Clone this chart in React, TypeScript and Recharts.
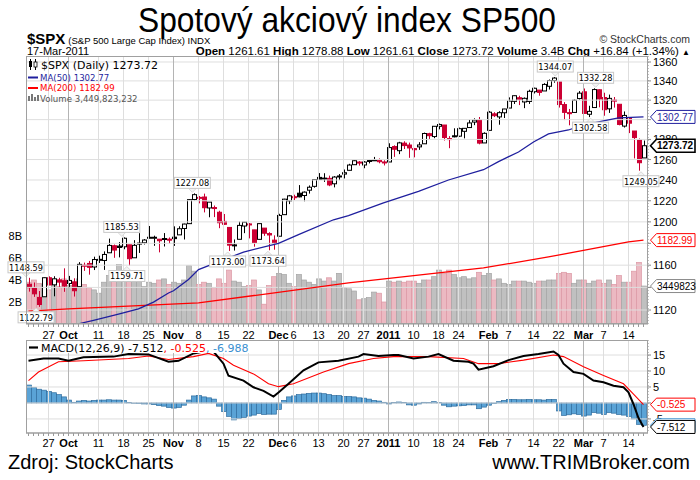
import React from 'react';
import { ComposedChart, Bar, Line, XAxis, YAxis, ReferenceLine, ReferenceDot } from 'recharts';

const dates = [
  '2010-09-21','2010-09-22','2010-09-23','2010-09-24','2010-09-27','2010-09-28','2010-09-29','2010-09-30',
  '2010-10-01','2010-10-04','2010-10-05','2010-10-06','2010-10-07','2010-10-08','2010-10-11','2010-10-12','2010-10-13','2010-10-14','2010-10-15','2010-10-18','2010-10-19','2010-10-20','2010-10-21','2010-10-22','2010-10-25','2010-10-26','2010-10-27','2010-10-28','2010-10-29',
  '2010-11-01','2010-11-02','2010-11-03','2010-11-04','2010-11-05','2010-11-08','2010-11-09','2010-11-10','2010-11-11','2010-11-12','2010-11-15','2010-11-16','2010-11-17','2010-11-18','2010-11-19','2010-11-22','2010-11-23','2010-11-24','2010-11-26','2010-11-29','2010-11-30',
  '2010-12-01','2010-12-02','2010-12-03','2010-12-06','2010-12-07','2010-12-08','2010-12-09','2010-12-10','2010-12-13','2010-12-14','2010-12-15','2010-12-16','2010-12-17','2010-12-20','2010-12-21','2010-12-22','2010-12-23','2010-12-27','2010-12-28','2010-12-29','2010-12-30','2010-12-31',
  '2011-01-03','2011-01-04','2011-01-05','2011-01-06','2011-01-07','2011-01-10','2011-01-11','2011-01-12','2011-01-13','2011-01-14','2011-01-18','2011-01-19','2011-01-20','2011-01-21','2011-01-24','2011-01-25','2011-01-26','2011-01-27','2011-01-28','2011-01-31',
  '2011-02-01','2011-02-02','2011-02-03','2011-02-04','2011-02-07','2011-02-08','2011-02-09','2011-02-10','2011-02-11','2011-02-14','2011-02-15','2011-02-16','2011-02-17','2011-02-18','2011-02-22','2011-02-23','2011-02-24','2011-02-25','2011-02-28',
  '2011-03-01','2011-03-02','2011-03-03','2011-03-04','2011-03-07','2011-03-08','2011-03-09','2011-03-10','2011-03-11','2011-03-14','2011-03-15','2011-03-16','2011-03-17',
];

const prevClose = 1142.71;

const opens = [
  1142.82,1139.49,1131.10,1131.69,1148.64,1142.31,1146.75,1145.97,
  1143.49,1144.96,1140.68,1159.81,1161.57,1158.36,1165.32,1164.28,1171.32,1177.82,1177.47,1176.83,1178.64,1166.74,1179.56,1180.52,1184.74,1184.88,1183.84,1184.47,1183.87,
  1185.71,1187.86,1193.79,1198.34,1221.20,1223.24,1223.59,1213.14,1213.04,1209.07,1200.44,1194.79,1178.33,1183.75,1196.12,1198.07,1192.51,1183.70,1194.16,1189.08,1182.96,
  1186.60,1206.81,1219.93,1223.87,1227.25,1225.02,1230.14,1233.85,1242.52,1241.84,1241.58,1236.34,1243.63,1245.76,1249.43,1254.94,1257.53,1254.66,1259.10,1258.78,1259.44,1256.76,
  1257.62,1272.95,1268.78,1276.29,1274.41,1270.84,1272.58,1275.65,1285.78,1282.90,1293.22,1294.52,1280.85,1283.63,1283.29,1288.17,1291.97,1297.51,1299.63,1276.50,
  1289.14,1305.91,1302.77,1307.01,1311.85,1318.76,1322.48,1318.13,1318.66,1328.73,1330.43,1329.51,1334.37,1340.38,1338.91,1315.44,1307.09,1307.34,1321.61,
  1328.64,1305.47,1312.37,1330.73,1322.72,1311.05,1319.92,1315.72,1293.43,1301.19,1288.46,1279.46,1261.61,
];
const highs = [
  1148.59,1144.38,1136.77,1148.90,1149.92,1150.00,1148.63,1157.16,
  1150.30,1148.16,1162.76,1162.33,1163.87,1167.73,1168.68,1172.58,1184.38,1178.89,1181.20,1185.53,1178.64,1182.94,1189.43,1183.93,1196.14,1187.11,1183.84,1189.53,1185.46,
  1195.81,1195.88,1198.30,1221.25,1227.08,1224.57,1226.84,1218.75,1215.45,1210.50,1207.43,1194.79,1183.56,1200.29,1199.97,1198.94,1192.51,1198.62,1194.16,1190.34,1187.40,
  1207.61,1221.89,1225.57,1225.80,1235.05,1228.93,1234.71,1240.40,1246.73,1246.59,1244.25,1243.75,1245.81,1250.20,1255.82,1259.39,1258.59,1258.43,1259.90,1262.60,1261.09,1259.34,
  1276.17,1274.12,1277.63,1278.17,1276.83,1271.52,1277.25,1286.87,1286.70,1293.24,1296.06,1294.60,1283.35,1291.21,1291.93,1291.26,1299.74,1301.29,1302.67,1287.17,
  1308.86,1307.61,1308.60,1311.00,1322.85,1324.87,1324.54,1322.76,1330.79,1332.96,1330.43,1337.61,1341.50,1344.07,1338.91,1317.91,1310.91,1320.61,1329.38,
  1332.09,1314.19,1332.28,1331.08,1327.68,1325.74,1323.21,1315.72,1308.35,1301.19,1288.46,1280.91,1278.88,
];
const lows = [
  1136.22,1131.58,1122.79,1131.69,1142.00,1132.09,1140.26,1136.08,
  1139.42,1131.87,1140.68,1154.85,1151.41,1155.58,1162.02,1155.71,1171.32,1166.71,1167.12,1174.55,1159.71,1166.74,1171.17,1178.99,1184.74,1177.72,1171.70,1177.10,1179.70,
  1177.65,1187.86,1183.56,1198.34,1220.29,1217.55,1208.94,1204.33,1204.49,1194.08,1197.15,1173.00,1173.34,1183.75,1189.44,1184.58,1176.91,1183.70,1186.93,1173.64,1174.14,
  1186.60,1206.81,1216.82,1220.67,1223.25,1219.50,1226.85,1232.58,1240.34,1238.17,1234.01,1232.85,1239.87,1241.51,1249.43,1254.94,1254.05,1251.48,1256.22,1258.78,1256.32,1254.19,
  1257.62,1262.66,1265.36,1270.43,1261.70,1262.18,1269.62,1275.65,1280.47,1281.24,1290.16,1278.92,1271.26,1282.07,1282.47,1281.07,1291.97,1294.41,1275.10,1276.50,
  1289.14,1302.62,1294.83,1301.67,1311.85,1316.03,1314.89,1311.74,1316.08,1326.90,1324.61,1329.51,1331.00,1338.12,1312.33,1299.55,1294.26,1307.34,1320.55,
  1306.14,1302.58,1312.37,1312.59,1303.99,1306.86,1312.27,1294.21,1291.99,1286.37,1261.12,1249.05,1261.61,
];
const closes = [
  1139.78,1134.28,1124.83,1148.67,1142.16,1147.70,1144.73,1141.20,
  1146.24,1137.03,1160.75,1159.97,1158.06,1165.15,1165.32,1169.77,1178.10,1173.81,1176.19,1184.71,1165.90,1178.17,1180.26,1183.08,1185.62,1185.64,1182.45,1183.78,1183.26,
  1184.38,1193.57,1197.96,1221.06,1225.85,1223.25,1213.40,1218.71,1213.54,1199.21,1197.75,1178.34,1178.59,1196.69,1199.73,1197.84,1180.73,1198.35,1189.40,1187.76,1180.55,
  1206.07,1221.53,1224.71,1223.12,1223.75,1228.28,1233.00,1240.40,1240.46,1241.59,1235.23,1242.87,1243.91,1247.08,1254.60,1258.84,1256.77,1257.54,1258.51,1259.78,1257.88,1257.64,
  1271.87,1270.20,1276.56,1273.85,1271.50,1269.75,1274.48,1285.96,1283.76,1293.24,1295.02,1281.92,1280.26,1283.35,1290.84,1291.18,1296.63,1299.54,1276.34,1286.12,
  1307.59,1304.03,1307.10,1310.87,1319.05,1324.57,1320.88,1321.87,1329.15,1332.32,1328.01,1336.32,1340.43,1343.01,1315.44,1307.40,1306.10,1319.88,1327.22,
  1306.33,1308.44,1330.97,1321.15,1310.13,1321.82,1320.02,1295.11,1304.28,1296.39,1281.87,1256.88,1273.72,
];
// volume in billions of shares
const volumesB = [
  3.8,4.0,3.7,3.6,3.1,3.6,3.4,4.1,
  3.5,3.5,4.1,3.6,3.3,3.1,2.8,3.8,4.4,4.3,5.4,4.1,4.8,4.4,3.9,3.4,3.8,3.7,4.0,4.1,3.6,
  3.8,3.7,4.0,5.3,4.8,3.6,3.8,3.7,3.3,4.1,3.7,4.9,3.9,3.8,3.4,3.5,4.0,3.1,1.8,3.5,4.3,
  4.6,4.5,3.7,3.4,4.5,4.0,3.8,3.6,4.1,3.9,4.2,3.9,4.6,3.3,3.2,3.0,2.2,2.3,2.4,2.9,2.8,2.0,
  3.9,3.8,3.9,3.8,3.9,3.9,3.7,4.0,4.0,4.3,4.9,4.6,4.9,4.5,4.2,4.3,4.1,4.2,4.7,4.4,
  4.6,4.0,4.1,3.7,3.6,3.9,3.9,3.9,3.8,3.7,3.9,3.9,4.0,4.0,4.6,4.7,4.6,3.7,4.0,
  4.0,3.7,3.9,4.0,3.7,4.0,3.6,4.4,3.8,3.8,4.8,5.6,3.449823232,
];

// [day index, value]
const ma50Points: [number, number][] = [
  [0,1096],[5,1101],[10,1108],[13,1111],[18,1116.5],[22,1121],[25,1127],[28,1135],[29,1137],[32,1147],[34,1156],
  [43,1172],[50,1180],[54,1188],[61,1202],[64,1206],[71,1218],[78,1229],[84,1240],[91,1250],[94,1258],[98,1267.5],
  [101,1277.5],[104,1285.5],[108,1289.5],[111,1294.6],[118,1301.7],[123,1302.77],
];
const ma200Points: [number, number][] = [
  [0,1119],[8,1121],[21,1123.6],[34,1126.2],[64,1144],[91,1157.5],[104,1167.5],[120,1181.3],[123,1182.99],
];
const macdPoints: [number, number][] = [
  [0,13.2],[3,13.9],[6,13.9],[8,13.2],[11,14.3],[17,14.5],[20,15.3],[24,15.2],[28,12.9],[30,13.2],[33,15.5],[35,16.1],
  [37,16.1],[39,12.3],[40,8.5],[43,7.0],[45,4.9],[47,3.8],[49,2.0],[50,3.3],[52,6.0],[55,10.2],[58,12.7],[62,13.2],
  [66,14.5],[67,15.3],[70,14.7],[73,15.0],[74,15.0],[77,13.9],[80,14.5],[82,15.3],[85,13.2],[88,12.9],[89,12.3],
  [90,10.4],[93,11.5],[96,13.4],[99,14.7],[102,15.3],[105,16.1],[106,15.0],[107,12.3],[109,9.7],[111,9.1],[113,7.0],
  [115,6.5],[117,5.4],[119,4.9],[120,3.3],[121,-0.4],[122,-4.7],[123,-7.512],
];
const signalPoints: [number, number][] = [
  [0,7.0],[2,9.7],[6,12.9],[11,13.2],[20,13.9],[24,14.7],[28,13.6],[33,14.5],[36,15.5],[39,13.9],[41,11.8],[45,9.1],
  [48,6.0],[50,5.1],[53,6.0],[59,9.7],[64,12.3],[69,13.9],[73,14.5],[80,14.5],[87,13.9],[90,12.3],[94,12.3],[99,13.4],
  [105,15.0],[107,14.5],[111,11.3],[115,8.6],[119,6.0],[121,2.8],[123,-0.525],
];
const histValues = [
  5.6,4.8,4.3,4.0,3.6,3.2,2.6,1.9,
  0.9,0.2,0.6,0.8,0.6,0.8,0.9,0.9,1.0,0.9,0.9,0.8,0.1,-0.1,-0.2,-0.3,-0.3,-0.5,-0.8,-1.0,-1.4,
  -1.6,-1.4,-0.7,0.9,2.2,2.3,1.9,1.6,1.2,-1.0,-2.7,-4.2,-5.3,-4.9,-4.5,-4.1,-3.8,-3.3,-3.6,-3.5,-3.5,
  -2.0,0.8,1.9,2.2,2.6,2.8,3.0,3.1,3.1,2.9,2.6,2.3,2.3,2.0,2.0,1.9,1.6,1.5,1.2,0.8,0.6,0.2,
  -0.3,0.1,0.3,0.1,-0.6,-0.7,-0.3,0.2,0.1,0.4,0.1,-0.7,-1.2,-1.0,-0.9,-0.8,-0.6,-0.6,-1.8,-1.3,
  -0.7,-0.2,0.4,0.8,1.1,1.1,1.0,1.0,1.1,1.0,1.0,0.9,1.1,1.1,-2.5,-3.9,-3.7,-3.4,-3.6,
  -4.1,-3.8,-3.0,-3.2,-3.6,-3.0,-3.2,-3.6,-3.8,-4.2,-5.0,-6.7,-6.988,
];

const priceTicks = [1120,1140,1160,1180,1200,1220,1240,1260,1280,1300,1320,1340,1360];
// tick labels that the value tags cover in the original
const coveredPriceLabels = [1140, 1180, 1300];
const volumeTicks = [2e9,4e9,6e9,8e9];
const macdTicks = [-5,0,5,10,15];
const coveredMacdLabels = [0];
const tickLabels: [string, string][] = [
  ['2010-09-27','27'],['2010-10-01','Oct'],['2010-10-11','11'],['2010-10-18','18'],['2010-10-25','25'],
  ['2010-11-01','Nov'],['2010-11-08','8'],['2010-11-15','15'],['2010-11-22','22'],['2010-12-01','Dec'],
  ['2010-12-06','6'],['2010-12-13','13'],['2010-12-20','20'],['2010-12-27','27'],['2011-01-03','2011'],
  ['2011-01-10','10'],['2011-01-18','18'],['2011-01-24','24'],['2011-02-01','Feb'],['2011-02-07','7'],
  ['2011-02-14','14'],['2011-02-22','22'],['2011-03-01','Mar'],['2011-03-07','7'],['2011-03-14','14'],
];
const monthLabels = ['Oct','Nov','Dec','2011','Feb','Mar'];
const priceNotes: { d: string; v: number; above: boolean }[] = [
  { d: '2010-09-21', v: 1148.59, above: true },
  { d: '2010-09-23', v: 1122.79, above: false },
  { d: '2010-10-18', v: 1185.53, above: true },
  { d: '2010-10-19', v: 1159.71, above: false },
  { d: '2010-11-05', v: 1227.08, above: true },
  { d: '2010-11-16', v: 1173.00, above: false },
  { d: '2010-11-29', v: 1173.64, above: false },
  { d: '2011-02-18', v: 1344.07, above: true },
  { d: '2011-03-03', v: 1332.28, above: true },
  { d: '2011-03-02', v: 1302.58, above: false },
  { d: '2011-03-16', v: 1249.05, above: false },
];

const SANS = 'Liberation Sans, Arial, sans-serif';
const VERD = 'DejaVu Sans, Verdana, sans-serif';
const RED = '#cc0033';
const NAVY = '#1f1f9e';

const labelMap: Record<string, string> = {};
tickLabels.forEach(([d, l]) => { labelMap[d] = l; });

type Row = {
  d: string; o: number; h: number; l: number; c: number; range: [number, number];
  vol: number; down: boolean; hist: number;
  ma50: number | null; ma200: number | null; macd: number | null; sig: number | null;
};

const table: Row[] = dates.map((d, i) => ({
  d,
  o: opens[i], h: highs[i], l: lows[i], c: closes[i],
  range: [lows[i], highs[i]],
  vol: volumesB[i] * 1e9,
  down: closes[i] < (i === 0 ? prevClose : closes[i - 1]),
  hist: histValues[i],
  ma50: null, ma200: null, macd: null, sig: null,
}));
ma50Points.forEach(([i, v]) => { table[i].ma50 = v; });
ma200Points.forEach(([i, v]) => { table[i].ma200 = v; });
macdPoints.forEach(([i, v]) => { table[i].macd = v; });
signalPoints.forEach(([i, v]) => { table[i].sig = v; });

const last = table[table.length - 1];
const lastMa50 = ma50Points[ma50Points.length - 1][1];
const lastMa200 = ma200Points[ma200Points.length - 1][1];
const lastMacd = macdPoints[macdPoints.length - 1][1];
const lastSig = signalPoints[signalPoints.length - 1][1];

const Candle = (props: any) => {
  const { x, y, width, height, payload } = props;
  if (!payload || !isFinite(y)) return null;
  const { o, h, l, c, down } = payload as Row;
  const cx = Math.floor(x + width / 2) + 0.5;
  const lh = Math.log(h);
  const span = lh - Math.log(l) || 1;
  const pos = (v: number) => y + (height * (lh - Math.log(v))) / span;
  const color = down ? RED : '#000';
  const top = pos(Math.max(o, c));
  const bot = pos(Math.min(o, c));
  const hollow = c >= o;
  return (
    <g>
      <line x1={cx} x2={cx} y1={y} y2={y + height} stroke={color} strokeWidth={1} />
      <rect x={cx - 2} y={top} width={4} height={Math.max(bot - top, 1)} fill={hollow ? '#fff' : color} stroke={color} strokeWidth={1} />
    </g>
  );
};

const VolBar = (props: any) => {
  const { x, y, width, height, payload } = props;
  if (!payload || !isFinite(y)) return null;
  const cx = x + width / 2;
  const dn = (payload as Row).down;
  return (
    <rect x={cx - 2.5} y={y} width={5} height={Math.max(height, 0)}
      fill={dn ? '#ecb9c2' : '#c0c0c0'} stroke={dn ? '#dc98a4' : '#a4a4a4'} strokeWidth={0.7} />
  );
};

const HistBar = (props: any) => {
  const { x, y, width, height } = props;
  if (!isFinite(y)) return null;
  const cx = x + width / 2;
  const top = Math.min(y, y + height);
  return <rect x={cx - 2.5} y={top} width={5} height={Math.abs(height)} fill="#5aa3d6" stroke="#2f6d9e" strokeWidth={0.7} />;
};

const XTick = (props: any) => {
  const { x, y, payload, dy } = props;
  const lab = labelMap[payload?.value];
  if (!lab) return null;
  const bold = monthLabels.includes(lab);
  return (
    <text x={x} y={y + (dy ?? 10)} textAnchor="middle" fontSize={11} fontWeight={bold ? 'bold' : 'normal'} fontFamily={SANS} fill="#000">
      {lab}
    </text>
  );
};

const RightTick = (props: any) => {
  const { x, y, payload, covered } = props;
  if ((covered as number[]).includes(payload?.value)) return null;
  return (
    <text x={x} y={y + 4} textAnchor="start" fontSize={11} fontFamily={SANS} fill="#000">{payload?.value}</text>
  );
};

const Note = (props: any) => {
  const { cx, cy, text, above } = props;
  if (!isFinite(cx) || !isFinite(cy)) return null;
  const w = 36;
  const h = 11;
  const by = above ? cy - 5 - h : cy + 5;
  const tipY = above ? cy - 1 : cy + 1;
  const baseY = above ? by + h : by;
  return (
    <g>
      <path d={`M${cx - 4},${baseY} L${cx},${tipY} L${cx + 4},${baseY} Z`} fill="#f4f4f4" stroke="#d0d0d0" strokeWidth={0.8} />
      <rect x={cx - w / 2} y={by} width={w} height={h} fill="#fff" stroke="#c8c8c8" strokeWidth={1} />
      <text x={cx} y={by + 8.8} textAnchor="middle" fontSize={8.2} fontFamily={VERD} fill="#000">{text}</text>
    </g>
  );
};

const Tag = (props: any) => {
  const { cx, cy, text, color, bold, textColor } = props;
  if (!isFinite(cx) || !isFinite(cy)) return null;
  const tip = cx + 4.5;
  const t = cy - 6.5;
  const b = cy + 6.5;
  return (
    <g>
      <path d={`M${tip},${cy} L${tip + 6},${t} L695,${t} L695,${b} L${tip + 6},${b} Z`} fill="#fff" stroke={color} strokeWidth={bold ? 1.6 : 1} />
      {text ? (
        <text x={tip + 6.5} y={cy + 3.7} fontSize={10} fontWeight={bold ? 'bold' : 'normal'} fill={textColor ?? color} fontFamily={SANS}>{text}</text>
      ) : null}
    </g>
  );
};

const gridLines = (axisId: string) =>
  tickLabels.map(([d, l]) => (
    <ReferenceLine key={'g' + d} x={d} yAxisId={axisId} stroke={monthLabels.includes(l) ? '#b4b4b4' : '#dedede'} strokeWidth={1} />
  ));

const axisTick = { fontSize: 11, fill: '#000', fontFamily: SANS };

const priceDomain: [number, number] = [1107.8, 1366.4];
const volDomain: [number, number] = [0, 24.36e9];
const macdDomain: [number, number] = [-9.4, 19.7];

export default function App() {
  return (
    <div style={{ position: 'absolute', left: 0, top: 0, width: 700, height: 480, background: '#fff', overflow: 'hidden' }}>
      {/* price + volume panel */}
      <div style={{ position: 'absolute', left: 0, top: 0 }}>
        <ComposedChart width={700} height={340} data={table} margin={{ top: 56, right: 0, bottom: 0, left: 0 }} barGap={-4} barCategoryGap={0}>
          {priceTicks.map((t) => (
            <ReferenceLine key={'h' + t} y={t} yAxisId="p" stroke="#dedede" />
          ))}
          {gridLines('p')}
          <XAxis dataKey="d" interval={0} height={16} padding={{ left: 0, right: 2 }} tick={<XTick dy={10} />} tickSize={3} tickLine={{ stroke: '#999' }} axisLine={{ stroke: '#999' }} />
          <YAxis yAxisId="v" orientation="left" width={26} type="number" domain={volDomain} allowDataOverflow ticks={volumeTicks} interval={0}
            tickFormatter={(v: number) => `${v / 1e9}B`} axisLine={false} tickLine={false} tickSize={0} tickMargin={4} tick={axisTick} />
          <YAxis yAxisId="p" orientation="right" width={52} type="number" scale="log" domain={priceDomain} allowDataOverflow ticks={priceTicks} interval={0}
            axisLine={{ stroke: '#888', strokeDasharray: '1 2' }} tickLine={{ stroke: '#888' }} tickSize={3} tickMargin={2} tick={<RightTick covered={coveredPriceLabels} />} />
          <Bar yAxisId="v" dataKey="vol" barSize={4} shape={<VolBar />} isAnimationActive={false} />
          <Line yAxisId="p" dataKey="ma200" stroke="#ff0000" strokeWidth={1.3} dot={false} connectNulls isAnimationActive={false} />
          <Line yAxisId="p" dataKey="ma50" stroke={NAVY} strokeWidth={1.3} dot={false} connectNulls isAnimationActive={false} />
          <Bar yAxisId="p" dataKey="range" barSize={4} shape={<Candle />} isAnimationActive={false} />
        </ComposedChart>
      </div>
      {/* same scales, on top: notes and value tags */}
      <div style={{ position: 'absolute', left: 0, top: 0 }}>
        <ComposedChart width={700} height={340} data={table} margin={{ top: 56, right: 52, bottom: 16, left: 26 }}>
          <XAxis dataKey="d" hide padding={{ left: 0, right: 2 }} />
          <YAxis yAxisId="v" hide type="number" domain={volDomain} allowDataOverflow />
          <YAxis yAxisId="p" hide type="number" scale="log" domain={priceDomain} allowDataOverflow />
          {priceNotes.map((n) => (
            <ReferenceDot key={'n' + n.d + n.v} x={n.d} y={n.v} yAxisId="p" r={0} ifOverflow="visible"
              shape={(p: any) => <Note {...p} text={n.v.toFixed(2)} above={n.above} />} />
          ))}
          <ReferenceDot x={last.d} y={last.vol} yAxisId="v" r={0} ifOverflow="visible"
            shape={(p: any) => <Tag {...p} text={String(Math.floor(last.vol / 1000))} color="#8a8a8a" textColor="#000" />} />
          <ReferenceDot x={last.d} y={lastMa200} yAxisId="p" r={0} ifOverflow="visible"
            shape={(p: any) => <Tag {...p} text={lastMa200.toFixed(2)} color="#ff0000" />} />
          <ReferenceDot x={last.d} y={lastMa50} yAxisId="p" r={0} ifOverflow="visible"
            shape={(p: any) => <Tag {...p} text={lastMa50.toFixed(2)} color={NAVY} />} />
          <ReferenceDot x={last.d} y={last.c} yAxisId="p" r={0} ifOverflow="visible"
            shape={(p: any) => <Tag {...p} text={last.c.toFixed(2)} color="#000" bold />} />
        </ComposedChart>
      </div>

      {/* MACD panel */}
      <div style={{ position: 'absolute', left: 0, top: 340 }}>
        <ComposedChart width={700} height={110} data={table} margin={{ top: 0, right: 0, bottom: 0, left: 26 }} barGap={-4} barCategoryGap={0}>
          {macdTicks.map((t) => (
            <ReferenceLine key={'mh' + t} y={t} yAxisId="m" stroke="#dedede" />
          ))}
          {gridLines('m')}
          <XAxis dataKey="d" interval={0} height={17} padding={{ left: 0, right: 2 }} tick={<XTick dy={9} />} tickSize={3} tickLine={{ stroke: '#999' }} axisLine={{ stroke: '#999' }} />
          <YAxis yAxisId="m" orientation="right" width={52} type="number" domain={macdDomain} allowDataOverflow ticks={macdTicks} interval={0}
            axisLine={{ stroke: '#888', strokeDasharray: '1 2' }} tickLine={{ stroke: '#888' }} tickSize={3} tickMargin={2} tick={<RightTick covered={coveredMacdLabels} />} />
          <Bar yAxisId="m" dataKey="hist" barSize={4} shape={<HistBar />} isAnimationActive={false} />
          <Line yAxisId="m" dataKey="sig" stroke="#ff0000" strokeWidth={1.1} dot={false} connectNulls isAnimationActive={false} />
          <Line yAxisId="m" dataKey="macd" stroke="#000" strokeWidth={2} dot={false} connectNulls isAnimationActive={false} />
        </ComposedChart>
      </div>
      <div style={{ position: 'absolute', left: 0, top: 340 }}>
        <ComposedChart width={700} height={110} data={table} margin={{ top: 0, right: 52, bottom: 17, left: 26 }}>
          <XAxis dataKey="d" hide padding={{ left: 0, right: 2 }} />
          <YAxis yAxisId="m" hide type="number" domain={macdDomain} allowDataOverflow />
          <ReferenceDot x={last.d} y={last.hist} yAxisId="m" r={0} ifOverflow="visible"
            shape={(p: any) => <Tag {...p} text="" color="#3a8fd0" />} />
          <ReferenceDot x={last.d} y={lastSig} yAxisId="m" r={0} ifOverflow="visible"
            shape={(p: any) => <Tag {...p} text={lastSig.toFixed(3)} color="#ff0000" />} />
          <ReferenceDot x={last.d} y={lastMacd} yAxisId="m" r={0} ifOverflow="visible"
            shape={(p: any) => <Tag {...p} text={lastMacd.toFixed(3)} color="#000" />} />
        </ComposedChart>
      </div>

      <svg width={700} height={480} style={{ position: 'absolute', left: 0, top: 0, pointerEvents: 'none' }}>
        <text x={347} y={32} textAnchor="middle" fontSize={35} fontFamily={SANS} fill="#000" textLength={418} lengthAdjust="spacingAndGlyphs">
          Spotový akciový index SP500
        </text>
        <text x={27} y={43.5} fontFamily={SANS} fill="#000">
          <tspan fontSize={15} fontWeight="bold">$SPX</tspan>
          <tspan fontSize={9.5} dx={3}>(S&amp;P 500 Large Cap Index) INDX</tspan>
        </text>
        <text x={690} y={43} textAnchor="end" fontSize={10.5} fontFamily={SANS} fill="#333">© StockCharts.com</text>
        <text x={27} y={54.5} fontSize={11} fontFamily={SANS} fill="#000">17-Mar-2011</text>
        <text x={690} y={54.5} textAnchor="end" fontSize={11.5} fontFamily={SANS} fill="#000">
          <tspan fontWeight="bold">Open</tspan> 1261.61 <tspan fontWeight="bold">High</tspan> 1278.88 <tspan fontWeight="bold">Low</tspan> 1261.61{' '}
          <tspan fontWeight="bold">Close</tspan> 1273.72 <tspan fontWeight="bold">Volume</tspan> 3.4B <tspan fontWeight="bold">Chg</tspan> +16.84 (+1.34%) <tspan fontSize={8}>▲</tspan>
        </text>

        {/* panel borders */}
        <rect x={26.5} y={56.5} width={621} height={267} fill="none" stroke="#a0a0a0" />
        <rect x={26.5} y={340.5} width={621} height={92.5} fill="none" stroke="#a0a0a0" />

        {/* main legend */}
        <g>
          <line x1={30.5} x2={30.5} y1={59} y2={70} stroke="#000" />
          <rect x={29} y={61} width={3} height={6} fill="#000" />
          <line x1={35.5} x2={35.5} y1={59} y2={70} stroke="#000" />
          <rect x={34} y={62} width={3} height={5} fill="#fff" stroke="#000" strokeWidth={0.8} />
          <text x={41} y={69} fontSize={11} fontFamily={VERD} fill="#000">$SPX (Daily) 1273.72</text>
          <line x1={28} x2={38} y1={77.5} y2={77.5} stroke={NAVY} strokeWidth={2} />
          <text x={40} y={80.5} fontSize={8.6} fontFamily={VERD} fill={NAVY}>MA(50) 1302.77</text>
          <line x1={28} x2={38} y1={88} y2={88} stroke="#ff0000" strokeWidth={2} />
          <text x={40} y={91} fontSize={8.6} fontFamily={VERD} fill="#ff0000">MA(200) 1182.99</text>
          <rect x={28} y={96} width={2} height={5} fill="#777" />
          <rect x={31} y={94} width={2} height={7} fill="#777" />
          <rect x={34} y={97} width={2} height={4} fill="#777" />
          <rect x={37} y={95} width={2} height={6} fill="#777" />
          <text x={40} y={101.5} fontSize={8.6} fontFamily={VERD} fill="#555">Volume 3,449,823,232</text>
        </g>

        {/* MACD legend */}
        <rect x={27} y={341} width={224} height={12} fill="#fff" />
        <line x1={29} x2={38} y1={347.5} y2={347.5} stroke="#000" strokeWidth={2.2} />
        <text x={41} y={351.5} fontSize={11} fontFamily={VERD}>
          <tspan fill="#000">MACD(12,26,9) -7.512</tspan>
          <tspan fill="#ff0000">, -0.525</tspan>
          <tspan fill="#3a8fd0">, -6.988</tspan>
        </text>

        <text x={8} y={469} fontSize={20} fontFamily={SANS} fill="#000">Zdroj: StockCharts</text>
        <text x={690} y={469} textAnchor="end" fontSize={20} fontFamily={SANS} fill="#000">www.TRIMBroker.com</text>
      </svg>
    </div>
  );
}
